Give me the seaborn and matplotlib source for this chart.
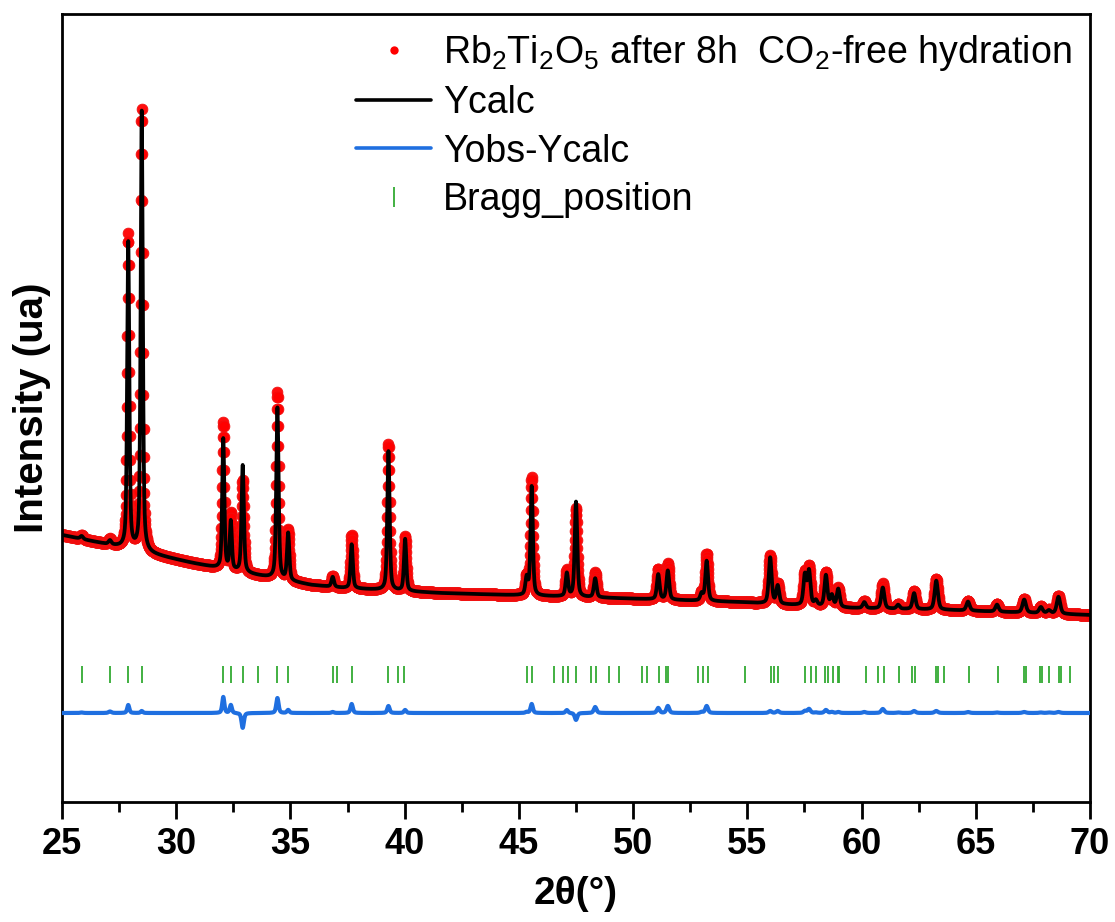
import numpy as np
import pandas as pd
import matplotlib
matplotlib.use("Agg")
import matplotlib.pyplot as plt
from matplotlib.lines import Line2D
from matplotlib.ticker import MultipleLocator
import seaborn as sns

# ---------------- data ----------------
scan_start, scan_stop, scan_step = 25.0, 70.0, 0.01

# background (counts) at a few 2theta positions
bg_pos = [25.0, 27.7, 29.3, 30.7, 31.8, 33.7, 35.9, 37.3, 39.0, 41.5, 44.5, 49.0, 54.5, 59.5, 63.8, 70.0]
bg_int = [2670, 2540, 2460, 2390, 2340, 2260, 2170, 2140, 2120, 2090, 2070, 2040, 2000, 1940, 1920, 1870]

# reflections: position, calculated height, observed height, FWHM
peak_pos = [25.86, 27.10, 27.90, 28.49, 32.06, 32.39, 32.91, 34.43, 34.90, 36.85, 37.68, 39.29, 40.02,
            45.34, 45.56, 47.10, 47.50, 48.34, 51.10, 51.52, 53.00, 53.22, 56.00, 56.33, 57.52, 57.70,
            58.00, 58.44, 58.70, 58.98, 60.12, 60.93, 61.60, 62.30, 63.27, 64.66, 65.93, 67.12, 67.85,
            68.20, 68.62]
calc_height = [30, 40, 3060, 4400, 1300, 480, 1070, 1710, 470, 100, 440, 1390, 520,
               170, 1090, 230, 950, 190, 250, 290, 70, 400, 460, 180, 300, 340,
               50, 310, 110, 180, 60, 210, 40, 160, 290, 90, 70, 130, 60,
               30, 170]
obs_height = [35, 55, 3140, 4420, 1460, 560, 920, 1860, 500, 110, 530, 1460, 550,
              180, 1180, 260, 880, 250, 300, 360, 80, 470, 480, 200, 320, 380,
              55, 340, 120, 190, 70, 250, 45, 180, 310, 100, 75, 140, 65,
              35, 180]
peak_fwhm = [0.15, 0.15, 0.11, 0.11, 0.11, 0.11, 0.12, 0.12, 0.12, 0.13, 0.12, 0.12, 0.12,
             0.13, 0.12, 0.13, 0.13, 0.14, 0.14, 0.14, 0.14, 0.14, 0.15, 0.15, 0.15, 0.15,
             0.15, 0.15, 0.15, 0.15, 0.16, 0.16, 0.16, 0.16, 0.17, 0.17, 0.17, 0.18, 0.18,
             0.18, 0.18]

diff_offset = 890
bragg_low, bragg_high = 1190, 1360
bragg_pos = [25.86, 27.10, 27.90, 28.49, 32.06, 32.39, 32.91, 33.57, 34.43, 34.90, 36.85, 37.04, 37.68,
             39.26, 39.72, 39.99, 45.34, 45.58, 46.55, 46.92, 47.14, 47.48, 48.17, 48.36, 48.95, 49.40,
             50.39, 50.60, 51.14, 51.45, 51.54, 52.82, 53.05, 53.28, 54.89, 56.03, 56.18, 56.33, 57.54,
             57.77, 58.02, 58.40, 58.52, 58.75, 58.98, 59.02, 60.18, 60.71, 60.98, 61.62, 62.22, 62.35,
             63.25, 63.36, 63.63, 64.72, 65.97, 67.12, 67.20, 67.80, 67.90, 68.20, 68.64, 68.74, 69.12]

x_ticks = [25, 30, 35, 40, 45, 50, 55, 60, 65, 70]
label_obs = r"Rb$_2$Ti$_2$O$_5$ after 8h  CO$_2$-free hydration"
label_calc = "Ycalc"
label_diff = "Yobs-Ycalc"
label_bragg = "Bragg_position"

# ---------------- profile construction ----------------
tt = np.arange(scan_start, scan_stop + scan_step / 2, scan_step)
bg = np.interp(tt, bg_pos, bg_int)


def pv(x, p, fwhm, eta=0.5):
    hw = fwhm / 2.0
    d = (x - p) / hw
    return eta / (1 + d ** 2) + (1 - eta) * np.exp(-np.log(2) * d ** 2)


calc = bg.copy()
obs = bg.copy()
for p, hc, ho, w in zip(peak_pos, calc_height, obs_height, peak_fwhm):
    prof = pv(tt, p, w)
    calc += hc * prof
    obs += ho * prof
diff = obs - calc + diff_offset

df = pd.DataFrame({"tt": tt, "obs": obs, "calc": calc, "diff": diff})

# ---------------- plotting ----------------
sns.set_theme(style="white")
plt.rcParams["font.family"] = ["Liberation Sans", "DejaVu Sans"]
plt.rcParams["mathtext.fontset"] = "custom"
plt.rcParams["mathtext.rm"] = "Liberation Sans"
plt.rcParams["mathtext.it"] = "Liberation Sans:italic"
plt.rcParams["mathtext.bf"] = "Liberation Sans:bold"
plt.rcParams["mathtext.default"] = "regular"
plt.rcParams["text.color"] = "black"
plt.rcParams["axes.labelcolor"] = "black"
plt.rcParams["xtick.color"] = "black"
plt.rcParams["ytick.color"] = "black"

fig = plt.figure(figsize=(11.15, 9.22), dpi=100)
ax = fig.add_axes([62 / 1115, 120 / 922, 1028 / 1115, 788 / 922])

sns.scatterplot(data=df, x="tt", y="obs", s=60, color="#ff0000", edgecolor="#f01010",
                linewidth=0.6, alpha=0.95, ax=ax, zorder=2, legend=False)
sns.lineplot(data=df, x="tt", y="calc", color="black", linewidth=2.7, ax=ax, zorder=3,
             estimator=None, sort=False, legend=False)
sns.lineplot(data=df, x="tt", y="diff", color="#1f6fe0", linewidth=3.0, ax=ax, zorder=3,
             estimator=None, sort=False, legend=False)
ax.vlines(bragg_pos, bragg_low, bragg_high, color="#33aa33", linewidth=1.3, zorder=2)

ax.set_xlim(scan_start, scan_stop)
ax.set_ylim(0, 7880)
ax.set_yticks([])
ax.set_xticks(x_ticks)
ax.xaxis.set_minor_locator(MultipleLocator(2.5))
ax.tick_params(axis="x", which="major", direction="out", length=12, width=2, labelsize=26,
               bottom=True, color="black", labelcolor="black", pad=6)
ax.tick_params(axis="x", which="minor", direction="out", length=7, width=2, bottom=True,
               color="black")
for lbl in ax.get_xticklabels():
    lbl.set_fontweight("bold")
for s in ax.spines.values():
    s.set_linewidth(2)
    s.set_color("black")

ax.set_xlabel("2θ(°)", fontsize=28, fontweight="bold", labelpad=10, color="black")
ax.set_ylabel("Intensity (ua)", fontsize=29, fontweight="bold", labelpad=8, color="black")

handles = [
    Line2D([], [], ls="none", marker="o", markersize=6, color="#ff0000", markeredgewidth=0),
    Line2D([], [], color="black", linewidth=2.6),
    Line2D([], [], color="#1f6fe0", linewidth=2.6),
    Line2D([], [], ls="none", marker="|", markersize=14, color="#33aa33", markeredgewidth=1.3),
]
leg = ax.legend(handles, [label_obs, label_calc, label_diff, label_bragg], loc="upper right",
                bbox_to_anchor=(1.0, 1.0), frameon=False, fontsize=27, handlelength=2.0,
                handletextpad=0.3, labelspacing=0.33, borderaxespad=0.2, borderpad=0.3)
for t in leg.get_texts():
    t.set_color("black")

fig.savefig("out.png", dpi=100)
